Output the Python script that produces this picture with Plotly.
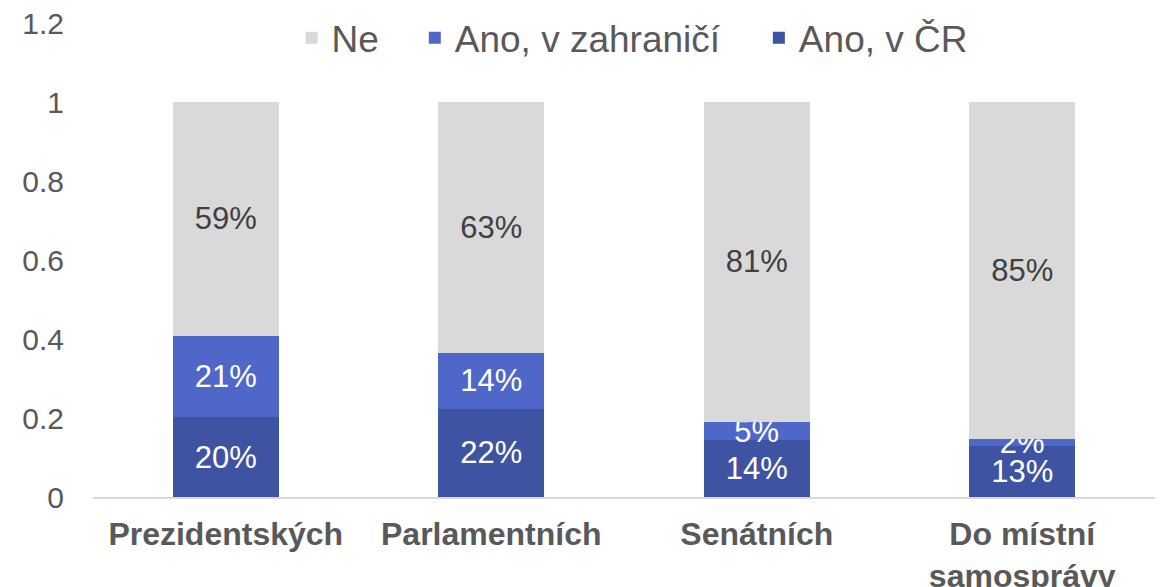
import plotly.graph_objects as go

categories = ["Prezidentských", "Parlamentních", "Senátních", "Do místní<br>samosprávy"]
ano_cr = [0.202, 0.223, 0.144, 0.130]
ano_zahranici = [0.206, 0.142, 0.046, 0.018]
ne = [0.592, 0.634, 0.810, 0.852]
y_ticks = [0, 0.2, 0.4, 0.6, 0.8, 1, 1.2]

FONT = "Liberation Sans, Arial, sans-serif"
LBL = 31

def pct(vals):
    return [f"{round(v * 100)}%" for v in vals]

fig = go.Figure()
fig.add_trace(go.Bar(name="Ano, v ČR", x=categories, y=ano_cr, marker_color="#3F53A3",
                     text=pct(ano_cr), textposition="inside", insidetextanchor="middle",
                     textfont=dict(color="white", size=LBL, family=FONT), legend="legend3"))
fig.add_trace(go.Bar(name="Ano, v zahraničí", x=categories, y=ano_zahranici, marker_color="#4F67C8",
                     text=pct(ano_zahranici), textposition="inside", insidetextanchor="middle",
                     textfont=dict(color="white", size=LBL, family=FONT), legend="legend2"))
fig.add_trace(go.Bar(name="Ne", x=categories, y=ne, marker_color="#D9D9D9",
                     text=pct(ne), textposition="inside", insidetextanchor="middle",
                     textfont=dict(color="#404040", size=LBL, family=FONT), legend="legend"))

fig.update_traces(marker_line_width=0, cliponaxis=False, constraintext="none")

def leg(x):
    return dict(orientation="h", x=x, xanchor="left", y=0.968, yanchor="middle",
                font=dict(size=37, color="#595959"), bgcolor="rgba(0,0,0,0)")

fig.update_layout(
    barmode="stack",
    bargap=0.6,
    width=1165, height=587,
    margin=dict(l=85, r=18, t=15, b=98, autoexpand=False),
    paper_bgcolor="white", plot_bgcolor="white",
    font=dict(family=FONT, color="#595959", size=30),
    uniformtext=dict(minsize=LBL, mode="show"),
    legend=leg(0.187),
    legend2=leg(0.303),
    legend3=leg(0.627),
    showlegend=True,
)
fig.update_yaxes(range=[0, 1.2], tickvals=y_ticks, ticktext=[f"{t:g}" for t in y_ticks],
                 showgrid=False, zeroline=False, showline=False, automargin=False,
                 ticklabeloverflow="allow",
                 tickfont=dict(size=30, color="#595959"), ticklabelstandoff=28)
fig.update_xaxes(showline=True, linecolor="#D9D9D9", linewidth=2, automargin=False,
                 ticklabeloverflow="allow",
                 tickfont=dict(size=32, color="#595959", family=FONT, weight="bold"),
                 ticklabelstandoff=8)

fig.write_html("out.html")
